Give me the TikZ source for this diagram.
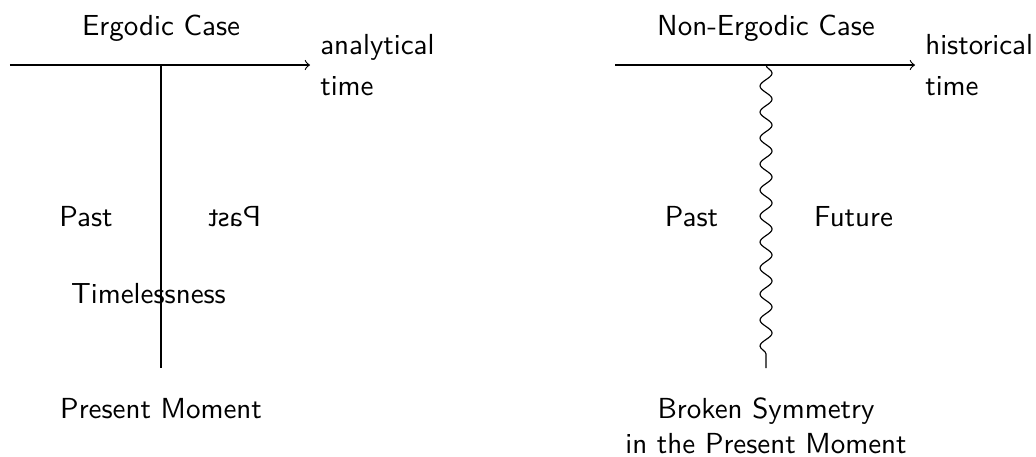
\documentclass[tikz,border=0pt]{standalone}
\usetikzlibrary{decorations.pathmorphing}
\tikzset{
  lbl/.style={font=\sffamily, align=center},
  wavy/.style={decorate, decoration={snake, segment length=0.315cm, amplitude=0.073cm, post length=0.1cm}}
}
\begin{document}
\begin{tikzpicture}[>=to]
    \useasboundingbox (0,0) rectangle (12.557,-5.539);
    % ergodic: axis
    \coordinate (eS) at (0.121,-0.788);
    \coordinate (eE) at (3.758,-0.788);
    \coordinate (eT) at (1.952,-0.788);
    \coordinate (eB) at (1.952,-4.461);
    \draw[->] (eS) -- (eE) node[lbl, right, align=left] (eAx) {analytical\\[2pt]time};
    \draw (eT) -- (eB);
    \node[lbl] (eTitle) at (1.952,-0.339) {Ergodic Case};
    \node[lbl] (ePast) at (1.042,-2.630) {Past};
    \node[lbl, xscale=-1] (eMirror) at (2.842,-2.630) {Past};
    \node[lbl] (eNone) at (1.800,-3.564) {Timelessness};
    \node[lbl] (eNow) at (1.952,-4.958) {Present Moment};
    % non-ergodic: axis
    \coordinate (nS) at (7.455,-0.788);
    \coordinate (nE) at (11.091,-0.788);
    \coordinate (nT) at (9.285,-0.788);
    \coordinate (nB) at (9.285,-4.461);
    \draw[->] (nS) -- (nE) node[lbl, right, align=left] (nAx) {historical\\[2pt]time};
    \draw[wavy] (nT) -- (nB);
    \node[lbl] (nTitle) at (9.285,-0.339) {Non-Ergodic Case};
    \node[lbl] (nPast) at (8.382,-2.630) {Past};
    \node[lbl] (nFut) at (10.345,-2.630) {Future};
    \node[lbl] (nNow) at (9.285,-5.158) {Broken Symmetry\\in the Present Moment};
\end{tikzpicture}
\end{document}
